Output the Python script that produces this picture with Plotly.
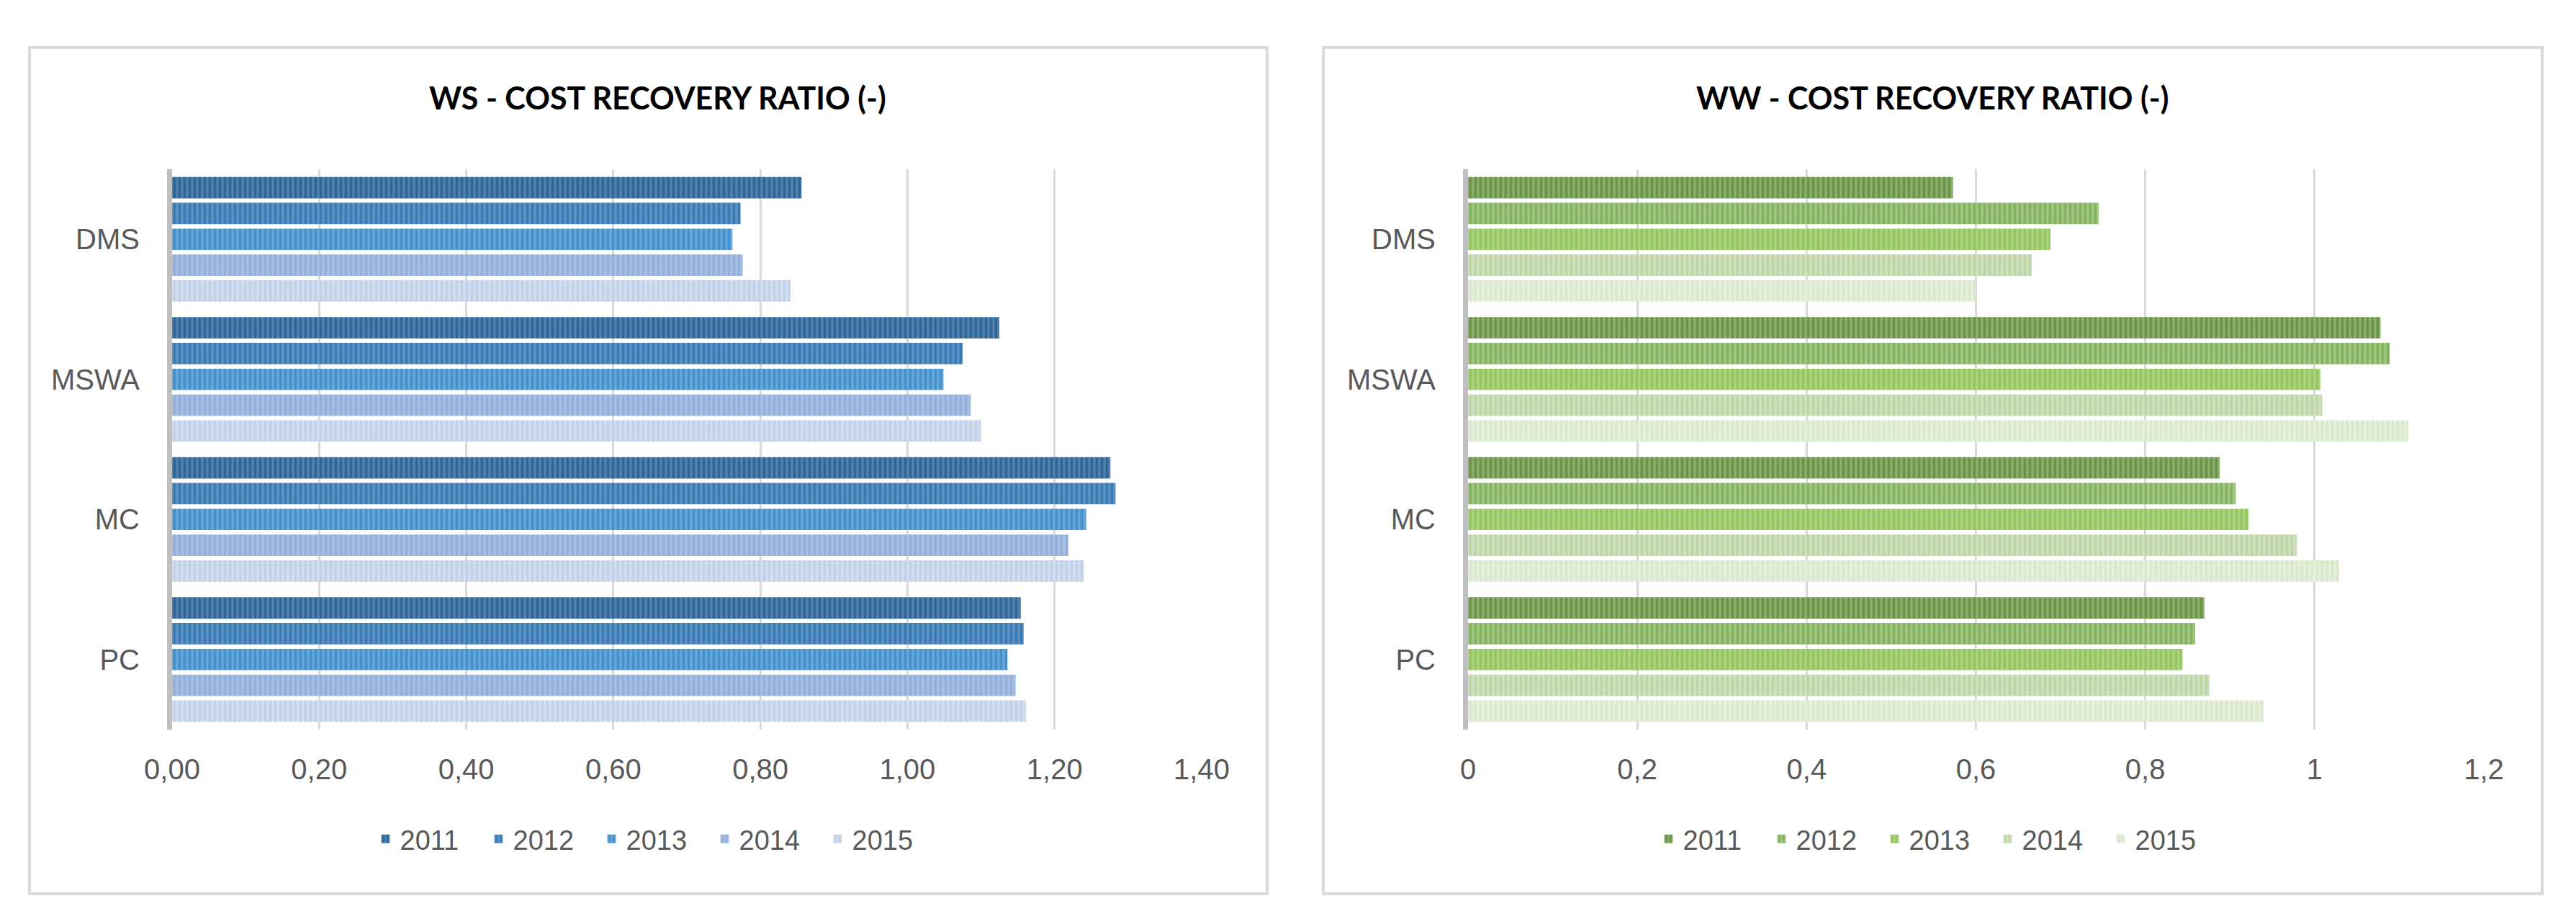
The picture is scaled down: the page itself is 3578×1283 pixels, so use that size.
import plotly.graph_objects as go

W, H = 3578, 1283

categories = ["DMS", "MSWA", "MC", "PC"]
years = ["2011", "2012", "2013", "2014", "2015"]

# WS - cost recovery ratio, per year (order of categories)
ws_2011 = [0.856, 1.125, 1.276, 1.154]
ws_2012 = [0.773, 1.075, 1.283, 1.158]
ws_2013 = [0.762, 1.049, 1.243, 1.136]
ws_2014 = [0.776, 1.086, 1.219, 1.147]
ws_2015 = [0.841, 1.100, 1.240, 1.161]

# WW - cost recovery ratio, per year
ww_2011 = [0.573, 1.078, 0.888, 0.870]
ww_2012 = [0.745, 1.089, 0.907, 0.859]
ww_2013 = [0.688, 1.007, 0.922, 0.844]
ww_2014 = [0.666, 1.009, 0.979, 0.876]
ww_2015 = [0.600, 1.111, 1.029, 0.940]

ws_values = [ws_2011, ws_2012, ws_2013, ws_2014, ws_2015]
ww_values = [ww_2011, ww_2012, ww_2013, ww_2014, ww_2015]

ws_x_ticks = [0, 0.2, 0.4, 0.6, 0.8, 1.0, 1.2, 1.4]
ww_x_ticks = [0, 0.2, 0.4, 0.6, 0.8, 1.0, 1.2]

# (stripe colour, background colour)
blue_colors = [("#0f4c7c", "#5283b0"), ("#1762a0", "#5f95c6"), ("#1c7cc0", "#6aa8dc"),
               ("#7d9fce", "#a8c0e2"), ("#b0c3e0", "#d3def0")]
green_colors = [("#4a7a22", "#8db071"), ("#689c36", "#a3c886"), ("#7db83a", "#acd484"),
                ("#abc98f", "#d0e3bf"), ("#cde0bc", "#e7f0de")]

TXT = "#595959"
FONT = "Liberation Sans, Arial, sans-serif"
TITLE_FONT = "Lato, Liberation Sans, sans-serif"

fig = go.Figure()

def px(x):
    return x / W

def py(y):
    return 1 - y / H

for yr, vals, (fg, bg) in zip(years, ws_values, blue_colors):
    fig.add_trace(go.Bar(
        y=categories, x=vals, name=yr, orientation="h",
        xaxis="x", yaxis="y", legend="legend",
        marker=dict(color=bg, line=dict(width=0),
                    pattern=dict(shape="|", fgcolor=fg, bgcolor=bg, size=7, solidity=0.55)),
    ))

for yr, vals, (fg, bg) in zip(years, ww_values, green_colors):
    fig.add_trace(go.Bar(
        y=categories, x=vals, name=yr, orientation="h",
        xaxis="x2", yaxis="y2", legend="legend2",
        marker=dict(color=bg, line=dict(width=0),
                    pattern=dict(shape="|", fgcolor=fg, bgcolor=bg, size=7, solidity=0.55)),
    ))

ydom = [py(1005), py(227)]

common_x = dict(showgrid=True, gridcolor="#d9d9d9", gridwidth=3, zeroline=False,
                showline=False, ticks="", tickfont=dict(family=FONT, size=40, color=TXT),
                ticklabelstandoff=28, fixedrange=True, automargin=False)
common_y = dict(showline=True, linecolor="#bfbfbf", linewidth=7, showgrid=False,
                zeroline=False, ticks="", type="category",
                categoryorder="array", categoryarray=categories, autorange="reversed",
                tickfont=dict(family=FONT, size=40, color=TXT), ticklabelstandoff=30,
                fixedrange=True, automargin=False)

legend_common = dict(orientation="h", yanchor="middle", y=py(1157),
                     font=dict(family=FONT, size=38, color=TXT), traceorder="normal",
                     itemwidth=30, entrywidth=112, entrywidthmode="pixels",
                     bgcolor="rgba(0,0,0,0)")

fig.update_layout(
    width=W, height=H,
    margin=dict(l=0, r=0, t=0, b=0, autoexpand=False),
    paper_bgcolor="white", plot_bgcolor="white",
    separators=", ",
    barmode="group", bargap=0.08, bargroupgap=0.17,
    xaxis=dict(domain=[px(231), px(1661)], range=[0, 1.4], tickvals=ws_x_ticks,
               tickformat=".2f", anchor="y", **common_x),
    yaxis=dict(domain=ydom, anchor="x", **common_y),
    xaxis2=dict(domain=[px(2031), px(3442)], range=[0, 1.2], tickvals=ww_x_ticks,
                anchor="y2", **common_x),
    yaxis2=dict(domain=ydom, anchor="x2", **common_y),
    legend=dict(x=px(900), xanchor="center", **legend_common),
    legend2=dict(x=px(2682), xanchor="center", **legend_common),
    showlegend=True,
    shapes=[
        dict(type="rect", xref="paper", yref="paper", x0=px(33), x1=px(1752), y0=py(1233), y1=py(58),
             line=dict(color="#d9d9d9", width=4), fillcolor="rgba(0,0,0,0)", layer="below"),
        dict(type="rect", xref="paper", yref="paper", x0=px(1830), x1=px(3523), y0=py(1233), y1=py(58),
             line=dict(color="#d9d9d9", width=4), fillcolor="rgba(0,0,0,0)", layer="below"),
    ],
    annotations=[
        dict(text="<b>WS - COST RECOVERY RATIO (-)</b>", xref="paper", yref="paper",
             x=px(905), y=py(128), xanchor="center", yanchor="middle", showarrow=False,
             font=dict(family=TITLE_FONT, size=43, color="#000000", weight=900)),
        dict(text="<b>WW - COST RECOVERY RATIO (-)</b>", xref="paper", yref="paper",
             x=px(2676), y=py(128), xanchor="center", yanchor="middle", showarrow=False,
             font=dict(family=TITLE_FONT, size=43, color="#000000", weight=900)),
    ],
)

fig.write_html("out.html")
